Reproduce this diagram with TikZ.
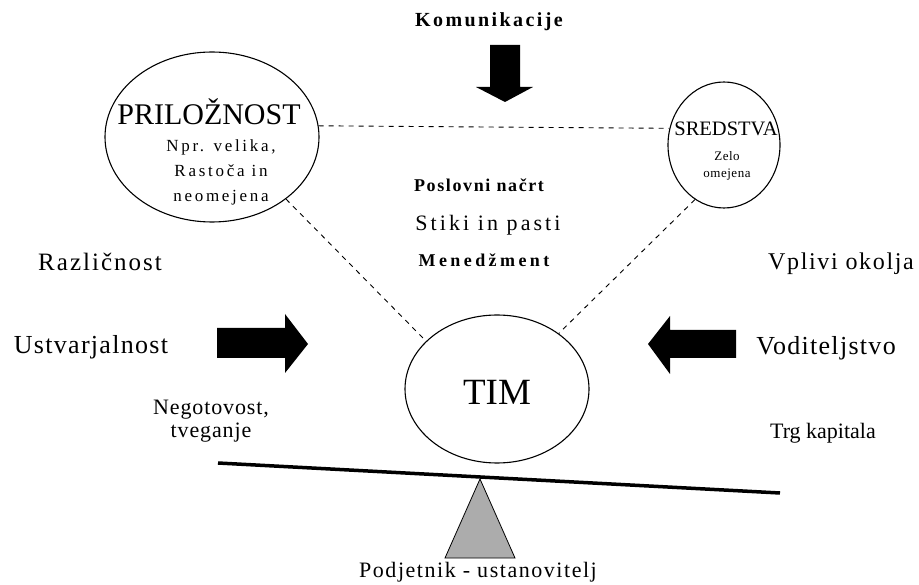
\documentclass[tikz,border=0pt]{standalone}
\usepackage{fontspec}
\setmainfont{Liberation Serif}
\usetikzlibrary{shapes.geometric}
\begin{document}
\begin{tikzpicture}[x=1pt,y=-1pt,
  oval/.style={draw,ellipse,line width=1.1pt,inner sep=0pt},
  dline/.style={line width=0.9pt,dash pattern=on 5pt off 5pt},
  fatarrow/.style={fill=black,draw=none},
  txt/.style={inner sep=0pt,align=center},
  fs/.style={font=\fontsize{#1}{#1}\selectfont}
]
\useasboundingbox (0,0) rectangle (919,585);
% ellipses
\node[oval,minimum width=214pt,minimum height=170pt] (pril) at (212,137) {};
\node[oval,minimum width=112pt,minimum height=126pt] (sred) at (724,145) {};
\node[oval,minimum width=184pt,minimum height=148pt] (tim) at (497,389) {};
% ellipse texts
\node[txt,fs=30] (prilt) at (209,112) {PRILOŽNOST};
\node[txt,font=\fontsize{17}{25}\selectfont\addfontfeature{LetterSpace=16}] (prild) at (221,172) {Npr. velika,\\Rastoča in\\neomejena};
\node[txt,fs=20.5] (sredt) at (726,129) {SREDSTVA};
\node[txt,font=\fontsize{13}{17}\selectfont\addfontfeature{LetterSpace=4}] (sredd) at (727,166) {Zelo\\omejena};
\node[txt,fs=37] (timt) at (497,392) {TIM};
% dashed links
\draw[dline] (pril.6) -- (sred.163);
\draw[dline] (pril.-40) -- (tim.146);
\draw[dline] (sred.-118) -- (tim.42);
% top
\node[txt,font=\fontsize{20}{20}\selectfont\bfseries\addfontfeature{LetterSpace=12}] (kom) at (489,22) {Komunikacije};
\coordinate (kdn) at (505,102);
\fill[fatarrow] (490,45) -- (520,45) -- (520,87) -- (533,87) -- (kdn) -- (476,87) -- (490,87) -- cycle;
% centre texts
\node[txt,font=\fontsize{18}{18}\selectfont\bfseries\addfontfeature{LetterSpace=9}] (pos) at (479,185) {Poslovni načrt};
\node[txt,font=\fontsize{22}{22}\selectfont\addfontfeature{LetterSpace=14}] (sti) at (488,225) {Stiki in pasti};
\node[txt,font=\fontsize{18}{18}\selectfont\bfseries\addfontfeature{LetterSpace=19}] (men) at (484,260) {Menedžment};
% left
\node[txt,font=\fontsize{25}{25}\selectfont\addfontfeature{LetterSpace=8}] (raz) at (100,262) {Različnost};
\node[txt,font=\fontsize{26}{26}\selectfont\addfontfeature{LetterSpace=5}] (ust) at (91,347) {Ustvarjalnost};
\coordinate (rtip) at (308,344);
\fill[fatarrow] (217,328) -- (285,328) -- (285,314) -- (rtip) -- (285,373) -- (285,358) -- (217,358) -- cycle;
\node[txt,font=\fontsize{22}{23}\selectfont\addfontfeature{LetterSpace=4}] (neg) at (211,421) {Negotovost,\\tveganje};
% right
\node[txt,font=\fontsize{24}{24}\selectfont\addfontfeature{LetterSpace=7}] (vpl) at (841,264) {Vplivi okolja};
\node[txt,font=\fontsize{26}{26}\selectfont\addfontfeature{LetterSpace=5}] (vod) at (826,348) {Voditeljstvo};
\coordinate (ltip) at (648,344);
\fill[fatarrow] (736,330) -- (670,330) -- (670,316) -- (ltip) -- (670,374) -- (670,358) -- (736,358) -- cycle;
\node[txt,fs=22] (trg) at (823,433) {Trg kapitala};
% balance
\coordinate (bl) at (218,463);
\coordinate (br) at (780,493);
\draw[line width=3.5pt] (bl) -- (br);
\coordinate (apex) at (480,479);
\filldraw[fill=gray!65,draw=black,line width=0.8pt] (apex) -- (515,558) -- (445,558) -- cycle;
\node[txt,font=\fontsize{22}{22}\selectfont\addfontfeature{LetterSpace=7}] (pod) at (478,572) {Podjetnik - ustanovitelj};
\end{tikzpicture}
\end{document}
